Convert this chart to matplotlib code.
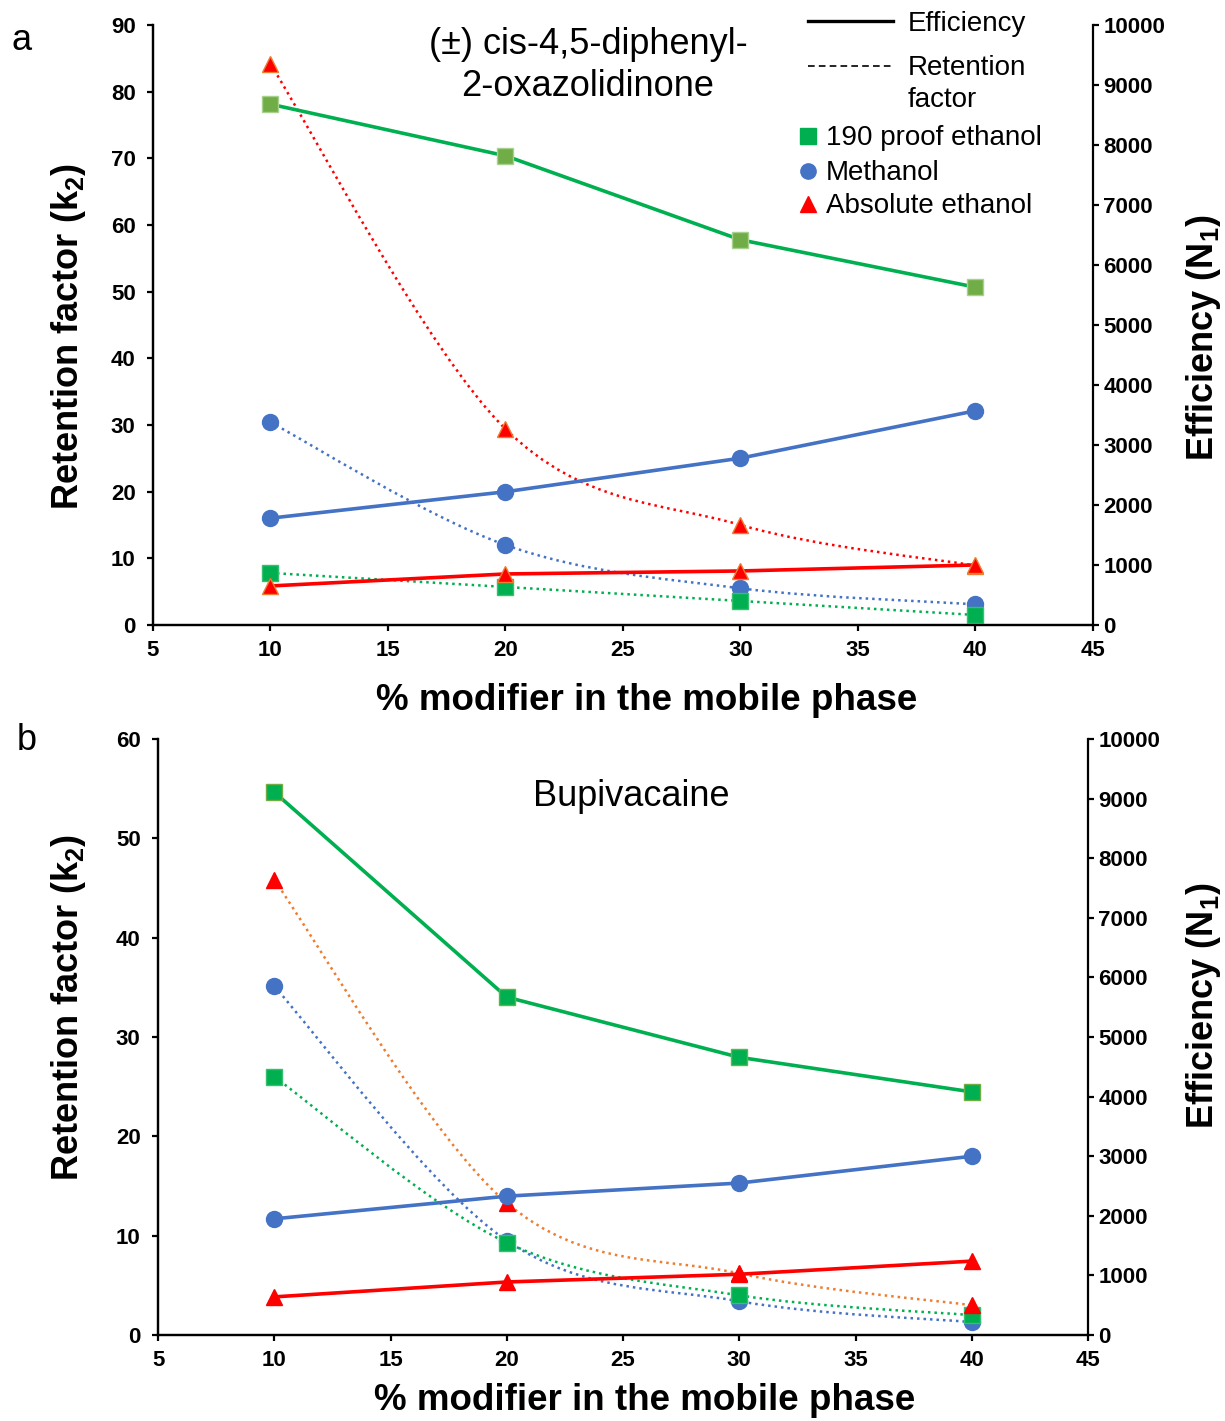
import matplotlib
matplotlib.use("Agg")
import matplotlib.pyplot as plt
import numpy as np
from matplotlib.path import Path
from matplotlib.patches import PathPatch

plt.rcParams["font.family"] = ["Liberation Sans", "DejaVu Sans"]
plt.rcParams["mathtext.fontset"] = "custom"
plt.rcParams["mathtext.rm"] = "Liberation Sans"
plt.rcParams["mathtext.bf"] = "Liberation Sans:bold"
plt.rcParams["mathtext.default"] = "bf"

# % modifier in the mobile phase
x_pct = [10, 20, 30, 40]

# (a) cis-4,5-diphenyl-2-oxazolidinone
a_eff_190 = [8680, 7820, 6420, 5630]
a_eff_meoh = [1780, 2220, 2780, 3570]
a_eff_abs = [650, 850, 900, 1000]
a_k_190 = [7.8, 5.7, 3.6, 1.5]
a_k_meoh = [30.4, 12.0, 5.5, 3.1]
a_k_abs = [84.1, 29.4, 15.0, 8.9]

# (b) bupivacaine
b_eff_190 = [9110, 5670, 4660, 4080]
b_eff_meoh = [1950, 2330, 2550, 3000]
b_eff_abs = [640, 890, 1020, 1240]
b_k_190 = [26.0, 9.3, 4.0, 2.0]
b_k_meoh = [35.1, 9.5, 3.4, 1.3]
b_k_abs = [45.8, 13.3, 6.2, 3.0]

GREEN = "#00B050"
OLIVE = "#70AD47"
BLUE = "#4472C4"
RED = "#FF0000"
ORANGE = "#ED7D31"

TICK_FS = 16
LABEL_FS = 26


def smooth_path(xs, ys):
    """Catmull-Rom style bezier through the points (like spreadsheet smoothed lines)"""
    pts = np.column_stack([xs, ys]).astype(float)
    n = len(pts)
    verts = [pts[0]]
    codes = [Path.MOVETO]
    for i in range(n - 1):
        p0 = pts[max(i - 1, 0)]
        p1 = pts[i]
        p2 = pts[i + 1]
        p3 = pts[min(i + 2, n - 1)]
        verts += [p1 + (p2 - p0) / 6, p2 - (p3 - p1) / 6, p2]
        codes += [Path.CURVE4] * 3
    return Path(verts, codes)


def retention(ax, ys, color, marker, face, edge, ms):
    patch = PathPatch(smooth_path(x_pct, ys), fill=False, edgecolor=color,
                      lw=1.8, linestyle=(0, (1, 1.6)), zorder=1)
    ax.add_patch(patch)
    ax.plot(x_pct, ys, linestyle="none", marker=marker, ms=ms,
            markerfacecolor=face, markeredgecolor=edge, markeredgewidth=1, zorder=3)


def efficiency(ax, ys, color, marker, face, edge, ms):
    ax.plot(x_pct, ys, "-", color=color, lw=2.6, marker=marker, ms=ms,
            markerfacecolor=face, markeredgecolor=edge, markeredgewidth=1, zorder=3)


def style_axes(ax, ax2, ymax, xlab_pos, ylab_pos, y2lab_pos):
    ax.set_xlim(5, 45)
    ax.set_xticks(range(5, 46, 5))
    ax.set_ylim(0, ymax)
    ax.set_yticks(range(0, ymax + 1, 10))
    ax2.set_ylim(0, 10000)
    ax2.set_yticks(range(0, 10001, 1000))
    for a in (ax, ax2):
        for s in a.spines.values():
            s.set_linewidth(1.6)
        a.spines["top"].set_visible(False)
        a.tick_params(labelsize=TICK_FS, width=1.6, length=4.5, direction="out")
        for lab in a.get_xticklabels() + a.get_yticklabels():
            lab.set_fontweight("bold")
    ax.spines["right"].set_visible(False)
    ax.tick_params(axis="y", pad=8)
    ax.tick_params(axis="x", pad=6)
    ax2.tick_params(axis="y", pad=3)

    ax.set_xlabel("% modifier in the mobile phase", fontsize=LABEL_FS + 0.5, fontweight="bold")
    ax.xaxis.set_label_coords(*xlab_pos)
    ax.set_ylabel("Retention factor (k$_2$)", fontsize=LABEL_FS, fontweight="bold")
    ax.yaxis.set_label_coords(*ylab_pos)
    ax2.set_ylabel("Efficiency (N$_1$)", fontsize=LABEL_FS, fontweight="bold")
    ax2.yaxis.set_label_coords(*y2lab_pos)


fig = plt.figure(figsize=(12.25, 14.21), dpi=100)

# ---- panel a ----
ax_a = fig.add_axes([0.1249, 0.5602, 0.7673, 0.4222])
ax_a2 = ax_a.twinx()
retention(ax_a, a_k_meoh, BLUE, "o", BLUE, BLUE, 11.5)
retention(ax_a, a_k_190, GREEN, "s", GREEN, "#33C070", 11.5)
retention(ax_a, a_k_abs, RED, "^", RED, ORANGE, 12)
efficiency(ax_a2, a_eff_190, GREEN, "s", OLIVE, "#A9D18E", 12)
efficiency(ax_a2, a_eff_meoh, BLUE, "o", BLUE, BLUE, 11.5)
efficiency(ax_a2, a_eff_abs, RED, "^", RED, ORANGE, 12)
style_axes(ax_a, ax_a2, 90, (0.5255, -0.096), (-0.069, 0.48), (1.097, 0.478))

ax_a.text(0.4628, 0.932, "(±) cis-4,5-diphenyl-\n2-oxazolidinone", transform=ax_a.transAxes,
          ha="center", va="center", fontsize=26, linespacing=1.25)

# legend drawn by hand in axes fraction
tr = ax_a2.transAxes
ax_a2.plot([0.6968, 0.787], [1.0067, 1.0067], color="black", lw=2.4,
           transform=tr, clip_on=False)
ax_a2.plot([0.6968, 0.787], [0.9317, 0.9317], color="black", lw=1.2,
           linestyle=(0, (4, 2.5)), transform=tr, clip_on=False)
ax_a2.text(0.803, 1.0017, "Efficiency", transform=tr, ha="left", va="center", fontsize=20)
ax_a2.text(0.803, 0.9015, "Retention\nfactor", transform=tr, ha="left", va="center",
           fontsize=20, linespacing=1.3)
legend_items = [("s", GREEN, GREEN, 0.815, "190 proof ethanol"),
                ("o", BLUE, BLUE, 0.7567, "Methanol"),
                ("^", RED, RED, 0.7017, "Absolute ethanol")]
for mk, fc, ec, yy, txt in legend_items:
    ax_a2.plot([0.6968], [yy], marker=mk, ms=11, markerfacecolor=fc,
               markeredgecolor=ec, linestyle="none", transform=tr, clip_on=False)
    ax_a2.text(0.716, yy - 0.004, txt, transform=tr, ha="left", va="center", fontsize=20)

# ---- panel b ----
ax_b = fig.add_axes([0.129, 0.0605, 0.7592, 0.4194])
ax_b2 = ax_b.twinx()
retention(ax_b, b_k_meoh, BLUE, "o", BLUE, BLUE, 11.5)
retention(ax_b, b_k_190, GREEN, "s", GREEN, "#33C070", 11.5)
retention(ax_b, b_k_abs, ORANGE, "^", RED, RED, 12)
efficiency(ax_b2, b_eff_190, GREEN, "s", GREEN, OLIVE, 12)
efficiency(ax_b2, b_eff_meoh, BLUE, "o", BLUE, BLUE, 11.5)
efficiency(ax_b2, b_eff_abs, RED, "^", RED, RED, 12)
style_axes(ax_b, ax_b2, 60, (0.5237, -0.080), (-0.075, 0.55), (1.103, 0.552))

ax_b.text(0.5086, 0.9044, "Bupivacaine", transform=ax_b.transAxes,
          ha="center", va="center", fontsize=26)

fig.text(22 / 1225, 1 - 40 / 1421, "a", ha="center", va="center", fontsize=26)
fig.text(27 / 1225, 1 - 740 / 1421, "b", ha="center", va="center", fontsize=26)

fig.savefig("out.png", dpi=100)
plt.close(fig)
